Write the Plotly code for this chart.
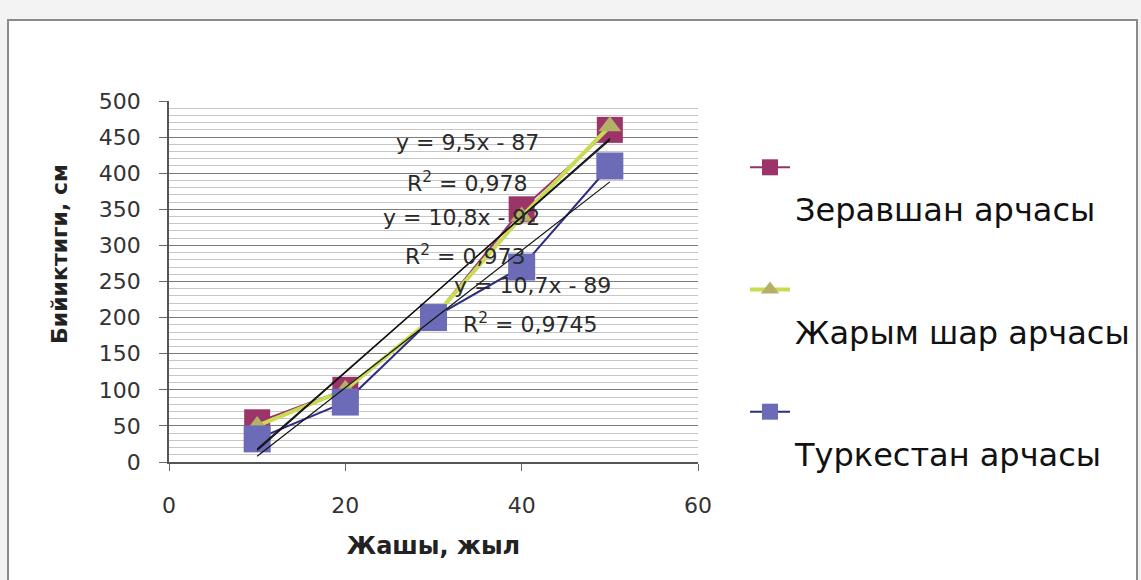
import plotly.graph_objects as go

ages = [10, 20, 30, 40, 50]
zeravshan = [55, 100, 200, 350, 460]
zharym = [50, 100, 200, 340, 465]
turkestan = [32, 83, 200, 270, 410]

series_names = ["Зеравшан арчасы", "Жарым шар арчасы", "Туркестан арчасы"]

trend_slopes = [9.5, 10.8, 10.7]
trend_intercepts = [-87, -92, -89]
trend_x = [10, 50]

eq_labels = ["y = 9,5x - 87", "R<sup>2</sup> = 0,978",
             "y = 10,8x - 92", "R<sup>2</sup> = 0,973",
             "y = 10,7x - 89", "R<sup>2</sup> = 0,9745"]
eq_pos = [(33.9, 442), (33.9, 388), (33.2, 339), (33.6, 287), (41.2, 245), (41.0, 193)]

x_ticks = [0, 20, 40, 60]
y_ticks = list(range(0, 501, 50))

# plot area pixel geometry
L, R, T, B = 169, 698, 101, 462
W, H = 1141, 580

fig = go.Figure()

fig.add_trace(go.Scatter(x=ages, y=zeravshan, mode="lines+markers", name="<br>" + series_names[0],
                         legendgroup="a",
                         line=dict(color="#993366", width=2),
                         marker=dict(symbol="square", size=26, color="#9B3468")))
fig.add_trace(go.Scatter(x=ages, y=zharym, mode="lines+markers", name="<br>" + series_names[1],
                         legendgroup="b",
                         line=dict(color="#C9DA55", width=4),
                         marker=dict(symbol="triangle-up", size=20, color="#B5B068")))
fig.add_trace(go.Scatter(x=ages, y=turkestan, mode="lines+markers", name="<br>" + series_names[2],
                         legendgroup="c",
                         line=dict(color="#2E2E80", width=2),
                         marker=dict(symbol="square", size=27, color="#6B6BB8")))

for a, b in zip(trend_slopes, trend_intercepts):
    fig.add_trace(go.Scatter(x=trend_x, y=[a * v + b for v in trend_x], mode="lines",
                             line=dict(color="#111111", width=1.2), showlegend=False,
                             hoverinfo="skip"))

for txt, (ax, ay) in zip(eq_labels, eq_pos):
    fig.add_annotation(x=ax, y=ay, text=txt, showarrow=False,
                       font=dict(family="DejaVu Sans", size=22, color="#2a2a2a"))

# y-axis title placed as in the reference
fig.add_annotation(xref="paper", yref="paper", x=(60 - L) / (R - L), y=(B - 254) / (B - T),
                   text="<b>Бийиктиги, см</b>", textangle=-90, showarrow=False,
                   xanchor="center", yanchor="middle",
                   font=dict(family="DejaVu Sans", size=22, color="#222"))

# outer chart box
fig.add_shape(type="rect", xref="paper", yref="paper",
              x0=(8 - L) / (R - L), x1=(1137 - L) / (R - L),
              y0=(B - 600) / (B - T), y1=(B - 20) / (B - T),
              fillcolor="white", line=dict(color="#8a8a8a", width=2), layer="below")

fig.update_layout(
    width=W, height=H,
    margin=dict(l=L, r=W - R, t=T, b=H - B, autoexpand=False),
    paper_bgcolor="#f3f3f3", plot_bgcolor="white",
    font=dict(family="DejaVu Sans", color="#222"),
    showlegend=True,
    legend=dict(x=(745 - L) / (R - L), y=(B - 140) / (B - T), xanchor="left", yanchor="top",
                font=dict(family="DejaVu Sans", size=32, color="#111"),
                valign="top", tracegroupgap=36, bgcolor="rgba(0,0,0,0)", itemwidth=40,
                maxheight=2000),
    xaxis=dict(range=[0, 60], tickvals=x_ticks, ticks="outside", ticklen=7, tickcolor="#666",
               showline=True, linecolor="#555", linewidth=1.5, showgrid=False, zeroline=False,
               tickfont=dict(family="DejaVu Sans", size=22, color="#333"), ticklabelstandoff=16,
               title=dict(text="<b>Жашы, жыл</b>", font=dict(family="DejaVu Sans", size=24, color="#222"),
                          standoff=20)),
    yaxis=dict(range=[0, 500], tickvals=y_ticks, ticks="outside", ticklen=8, tickcolor="#666",
               showline=True, linecolor="#555", linewidth=1.5, zeroline=False,
               showgrid=True, gridcolor="#7c7c7c", gridwidth=1.3,
               minor=dict(dtick=10, showgrid=True, gridcolor="#c6c6c6", gridwidth=1),
               tickfont=dict(family="DejaVu Sans", size=22, color="#333"), ticklabelstandoff=14),
)

fig.write_html("out.html")
